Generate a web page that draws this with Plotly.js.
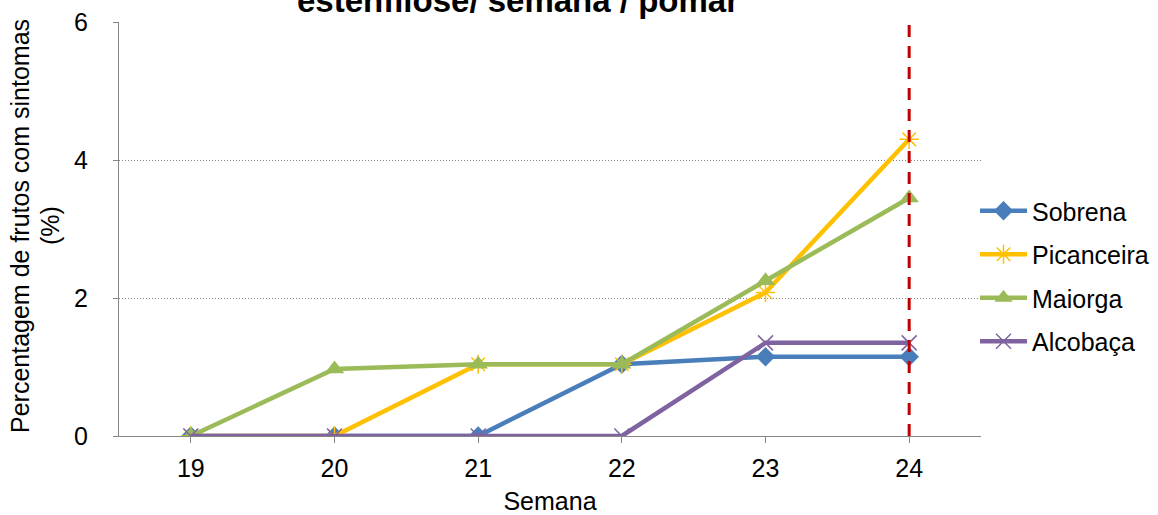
<!DOCTYPE html>
<html>
<head>
<meta charset="utf-8">
<script src="https://cdn.plot.ly/plotly-3.0.1.min.js"></script>
<style>html,body{margin:0;padding:0;background:#fff;}#chart{width:1158px;height:515px;}</style>
</head>
<body>
<div id="chart"></div>
<script>
const semanas = [19, 20, 21, 22, 23, 24];
const sobrena = [0, 0, 0, 1.04, 1.15, 1.15];
const picanceira = [0, 0, 1.04, 1.04, 2.08, 4.30];
const maiorga = [0, 0.97, 1.04, 1.04, 2.25, 3.45];
const alcobaca = [0, 0, 0, 0, 1.35, 1.35];
const seriesNames = ['Sobrena', 'Picanceira', 'Maiorga', 'Alcobaça'];
const yTicks = [0, 2, 4, 6];
const semanaLimite = 24;
const tituloY = ['Percentagem de frutos com sintomas', '(%)'];

const FONT = 'Liberation Sans, Arial, sans-serif';
const FS = 25;
const W = 1158, H = 515, ML = 119, MR = 177, MT = 22, MB = 79;
const PW = W - ML - MR, PH = H - MT - MB;

const traces = [
  {x: semanas, y: sobrena, name: seriesNames[0], mode: 'lines+markers', legendgroup: 'a',
   line: {color: '#4A7EBB', width: 4.5},
   marker: {symbol: 'diamond', size: 15, color: '#4A7EBB'}},
  {x: semanas, y: picanceira, name: seriesNames[1], mode: 'lines+markers', legendgroup: 'b',
   line: {color: '#FFC000', width: 4.5},
   marker: {symbol: 'asterisk-open', size: 16, color: '#FFC000', line: {color: '#FFC000', width: 1.5}}},
  {x: semanas, y: maiorga, name: seriesNames[2], mode: 'lines+markers', legendgroup: 'c',
   line: {color: '#9BBB59', width: 4.5},
   marker: {symbol: 'triangle-up', size: 17, color: '#9BBB59'}},
  {x: semanas, y: alcobaca, name: seriesNames[3], mode: 'lines+markers', legendgroup: 'd',
   line: {color: '#7F63A1', width: 4.5},
   marker: {symbol: 'x-thin-open', size: 15, color: '#7F63A1', line: {color: '#7F63A1', width: 1.5}}}
];

const layout = {
  width: W, height: H,
  margin: {l: ML, r: MR, t: MT, b: MB, autoexpand: false},
  paper_bgcolor: '#fff', plot_bgcolor: '#fff',
  font: {family: FONT, size: FS, color: '#000'},
  title: {text: '<b>estenfilose/ semana / pomar</b>', font: {family: FONT, size: 33, color: '#000'},
          x: 518/W, xanchor: 'center', xref: 'container', yref: 'container', y: 1, yanchor: 'middle'},
  xaxis: {
    range: [18.5, 24.5], tickvals: semanas, ticktext: semanas.map(String),
    showgrid: false, zeroline: false, showline: true, linecolor: '#868686', linewidth: 1,
    ticks: 'outside', ticklen: 6, tickcolor: '#868686', ticklabelstandoff: 4,
    tickfont: {family: FONT, size: FS, color: '#000'},
    title: {text: 'Semana', font: {family: FONT, size: FS, color: '#000'}, standoff: 14},
    fixedrange: true
  },
  yaxis: {
    range: [0, 6], tickvals: yTicks,
    showgrid: true, gridcolor: '#868686', gridwidth: 1, griddash: '1px,2px',
    zeroline: false, showline: true, linecolor: '#868686', linewidth: 1,
    ticks: 'outside', ticklen: 5, tickcolor: '#868686', ticklabelstandoff: 20,
    tickfont: {family: FONT, size: FS, color: '#000'},
    fixedrange: true
  },
  annotations: [
    {text: tituloY[0], textangle: -90, xref: 'paper', yref: 'paper',
     x: (20 - ML) / PW, y: (H - MB - 226) / PH, xanchor: 'center', yanchor: 'middle',
     showarrow: false, font: {family: FONT, size: FS, color: '#000'}},
    {text: tituloY[1], textangle: -90, xref: 'paper', yref: 'paper',
     x: (50 - ML) / PW, y: (H - MB - 226) / PH, xanchor: 'center', yanchor: 'middle',
     showarrow: false, font: {family: FONT, size: FS, color: '#000'}}
  ],
  legend: {xref: 'container', yref: 'container', x: 975/W, xanchor: 'left', y: (H - 276)/H, yanchor: 'middle',
           font: {family: FONT, size: FS, color: '#000'}, bgcolor: 'rgba(0,0,0,0)',
           tracegroupgap: 8, itemwidth: 47},
  shapes: [{type: 'line', xref: 'x', yref: 'y', x0: semanaLimite, x1: semanaLimite, y0: 0, y1: 6.03,
            line: {color: '#C00000', width: 3, dash: '12px,9px'}, layer: 'above'}],
  showlegend: true
};

Plotly.newPlot('chart', traces, layout, {displayModeBar: false, staticPlot: true});
</script>
</body>
</html>
